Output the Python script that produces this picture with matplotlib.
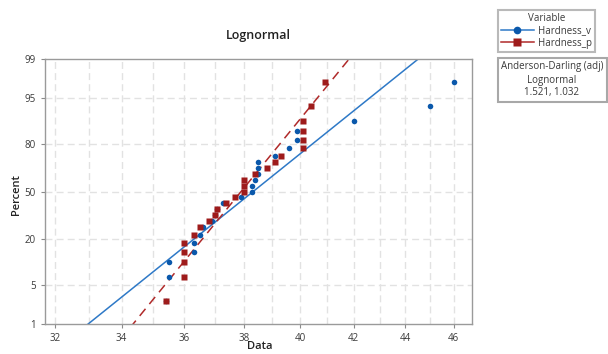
import numpy as np
from statistics import NormalDist
from matplotlib import pyplot as plt
from matplotlib.patches import Rectangle
from matplotlib.lines import Line2D

# Hardness_v (blue) – sorted values and their plotted percent (median ranks)
hard_v = [35.4, 35.5, 35.5, 36.3, 36.3, 36.5, 36.6, 36.9, 37.0, 37.1, 37.3, 37.9,
          38.3, 38.3, 38.4, 38.5, 38.5, 38.5, 39.1, 39.6, 39.9, 39.9, 42.0, 45.0, 46.0]
# Hardness_p (red)
hard_p = [35.4, 36.0, 36.0, 36.0, 36.0, 36.3, 36.5, 36.8, 37.0, 37.1, 37.4, 37.7,
          38.0, 38.0, 38.0, 38.4, 38.8, 39.1, 39.3, 40.1, 40.1, 40.1, 40.1, 40.4, 40.9]
percent = [2.76, 6.69, 10.63, 14.57, 18.50, 22.44, 26.38, 30.31, 34.25, 38.19, 42.13, 46.06,
           50.0, 53.94, 57.87, 61.81, 65.75, 69.69, 73.62, 77.56, 81.50, 85.43, 89.37, 93.31, 97.24]

# fitted lognormal lines (location, scale)
fit_v = (3.6461, 0.06457)
fit_p = (3.6351, 0.04225)

x_ticks = [32, 34, 36, 38, 40, 42, 44, 46]
y_ticks = [1, 5, 20, 50, 80, 95, 99]
ad_text = "Anderson-Darling (adj)\nLognormal\n1.521, 1.032"

nd = NormalDist()
_ppf = np.vectorize(lambda v: nd.inv_cdf(v), otypes=[float])
_cdf = np.vectorize(lambda v: nd.cdf(v), otypes=[float])


def fwd(p):
    p = np.clip(np.asarray(p, float), 1e-6, 100 - 1e-6)
    return _ppf(p / 100.0)


def inv(z):
    return _cdf(np.asarray(z, float)) * 100.0


plt.rcParams['font.family'] = ['Open Sans', 'DejaVu Sans']

blue_m = '#0a58ab'
blue_l = '#2e79c7'
red_m = '#9e1b1b'
red_l = '#b02a2a'
grey_txt = '#3a3a3a'

fig = plt.figure(figsize=(6.08, 3.54), dpi=100)
ax = fig.add_axes([45 / 608, 1 - 324 / 354, 427 / 608, 265 / 354])
ax.set_xscale('log')
ax.set_yscale('function', functions=(fwd, inv))
ax.set_xlim(31.71, 46.77)
ax.set_ylim(1, 99)

# grid
for gx in range(32, 47):
    ax.axvline(gx, color='#e2e2e2', lw=1, ls=(0, (5, 3)), zorder=0)
for gy in [5, 20, 50, 80, 95]:
    ax.axhline(gy, color='#e2e2e2', lw=1, ls=(0, (5, 3)), zorder=0)

# fit lines
z = np.linspace(-2.6, 2.6, 50)
pz = inv(z)
ax.plot(np.exp(fit_v[0] + fit_v[1] * z), pz, color=blue_l, lw=1.1, zorder=2)
ax.plot(np.exp(fit_p[0] + fit_p[1] * z), pz, color=red_l, lw=1.1, ls=(0, (6, 4)), zorder=2)

ax.plot(hard_v, percent, 'o', color=blue_m, ms=4, mec='none', zorder=3)
ax.plot(hard_p, percent, 's', color=red_m, ms=4.5, mec='none', zorder=4)

ax.set_xticks(x_ticks)
ax.set_xticklabels([str(t) for t in x_ticks])
ax.xaxis.set_minor_locator(plt.NullLocator())
ax.set_yticks(y_ticks)
ax.set_yticklabels([str(t) for t in y_ticks])
ax.yaxis.set_minor_locator(plt.NullLocator())
ax.tick_params(labelsize=7, colors='#8a8a8a', labelcolor=grey_txt, length=3, width=0.8)
for s in ax.spines.values():
    s.set_color('#9a9a9a')
    s.set_linewidth(1)

fig.text(258 / 608, 1 - 35 / 354, 'Lognormal', ha='center', va='center',
         fontsize=9, fontweight='semibold', color='#222222')
fig.text(17 / 608, 1 - 195 / 354, 'Percent', rotation=90, ha='center', va='center',
         fontsize=8, fontweight='semibold', color='#222222')
fig.text(260 / 608, 2 / 354, 'Data', ha='center', va='bottom',
         fontsize=8, fontweight='semibold', color='#222222')

# legend box
handles = [Line2D([], [], color=blue_l, lw=1.1, marker='o', ms=5.5, mfc=blue_m, mec='none'),
           Line2D([], [], color=red_l, lw=1.1, marker='s', ms=5.5, mfc=red_m, mec='none')]
leg = fig.legend(handles, ['Hardness_v', 'Hardness_p'], title='Variable',
                 loc='upper left', bbox_to_anchor=(498 / 608, 1 - 10 / 354),
                 fontsize=7, title_fontsize=7, frameon=True, fancybox=False,
                 borderpad=0.3, labelspacing=0.15, handlelength=3.4, handletextpad=0.4,
                 borderaxespad=0)
leg.get_frame().set_edgecolor('#a8a8a8')
leg.get_frame().set_linewidth(1.5)
for t in leg.get_texts():
    t.set_color(grey_txt)
leg.get_title().set_color(grey_txt)

fig.patches.append(Rectangle((498 / 608, 1 - 102 / 354), 109 / 608, 44 / 354,
                             transform=fig.transFigure, fill=False,
                             edgecolor='#a8a8a8', lw=1.5))
fig.text(552 / 608, 1 - 80 / 354, ad_text, ha='center', va='center',
         fontsize=7, color=grey_txt, linespacing=1.25)

fig.savefig('out.png', dpi=100)
